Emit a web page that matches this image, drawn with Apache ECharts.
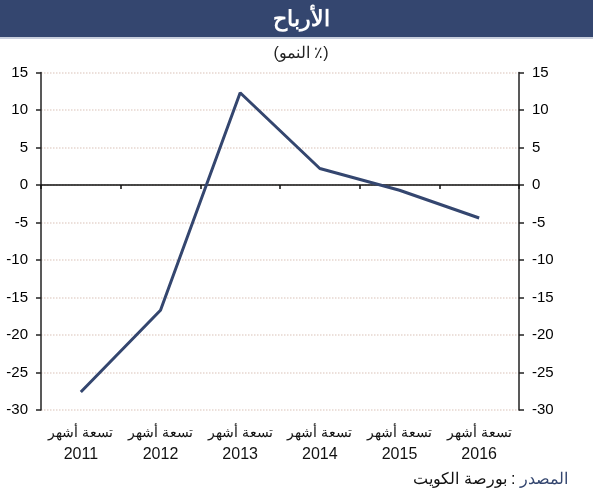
<!DOCTYPE html>
<html>
<head>
<meta charset="utf-8">
<script src="https://cdn.jsdelivr.net/npm/echarts@6/dist/echarts.min.js"></script>
<style>
  html, body { margin: 0; padding: 0; background: #fff; }
  #chart { width: 593px; height: 500px; }
</style>
</head>
<body>
<div id="chart"></div>
<script>
// الأرباح - نمو (٪)
var periodLabel = 'تسعة أشهر';
var years = ['2011', '2012', '2013', '2014', '2015', '2016'];
var growth = [-27.6, -16.7, 12.3, 2.2, -0.7, -4.4];
var yMin = -30, yMax = 15, yStep = 5;

var navy = '#34466f';
var chart = echarts.init(document.getElementById('chart'));

var yAxisBase = {
    type: 'value',
    min: yMin,
    max: yMax,
    interval: yStep,
    axisLine: { show: true, onZero: false, lineStyle: { color: '#222', width: 1.5 } },
    axisTick: { show: true, length: 5, lineStyle: { color: '#222', width: 1.5 } },
    axisLabel: { color: '#000', fontSize: 15, fontFamily: 'Liberation Sans, Arial', margin: 13 }
};

var option = {
    animation: false,
    graphic: [
        { type: 'rect', left: 0, top: 0, shape: { width: 593, height: 37 }, style: { fill: navy }, z: 0 },
        { type: 'rect', left: 0, top: 37, shape: { width: 593, height: 2 }, style: { fill: '#c9cfdd' }, z: 0 },
        {
            type: 'text', right: 25, top: 472, z: 10,
            style: {
                text: '{b|بورصة الكويت}{b| : }{a|المصدر}',
                rich: {
                    a: { fill: navy, fontSize: 16 },
                    b: { fill: '#111', fontSize: 16 }
                }
            }
        }
    ],
    title: [
        {
            text: 'الأرباح',
            left: 296, top: 4, textAlign: 'center',
            textStyle: { color: '#fff', fontSize: 22, fontWeight: 'bold' }
        },
        {
            text: '(النمو ٪)',
            left: 296, top: 41, textAlign: 'center',
            textStyle: { color: '#222', fontSize: 16, fontWeight: 'normal' }
        }
    ],
    grid: { left: 41, right: 74, top: 72.5, bottom: 90 },
    xAxis: [
        {
            type: 'category',
            data: years,
            position: 'bottom',
            axisLine: { show: false, onZero: false },
            axisTick: { show: false },
            axisLabel: {
                interval: 0, margin: 12,
                formatter: function (v) { return '{p|' + periodLabel + '}\n{y|' + v + '}'; },
                rich: {
                    p: { color: '#111', fontSize: 14, lineHeight: 22 },
                    y: { color: '#111', fontSize: 16, lineHeight: 22, fontFamily: 'Liberation Sans, Arial' }
                }
            }
        },
        {
            type: 'category',
            data: years,
            position: 'bottom',
            axisLine: { show: true, onZero: true, onZeroAxisIndex: 0, lineStyle: { color: '#111', width: 1.5 } },
            axisTick: { show: true, interval: 0, length: 4, lineStyle: { color: '#111', width: 1.5 } },
            axisLabel: { show: false }
        }
    ],
    yAxis: [
        Object.assign({}, yAxisBase, {
            position: 'left',
            splitLine: { show: true, lineStyle: { color: '#e6d6d0', type: 'dotted', width: 1.5 } }
        }),
        Object.assign({}, yAxisBase, {
            position: 'right',
            splitLine: { show: false }
        })
    ],
    series: [
        {
            type: 'line',
            data: growth,
            xAxisIndex: 0,
            yAxisIndex: 0,
            symbol: 'none',
            lineStyle: { color: navy, width: 3 },
            z: 5
        }
    ]
};

chart.setOption(option);
</script>
</body>
</html>
